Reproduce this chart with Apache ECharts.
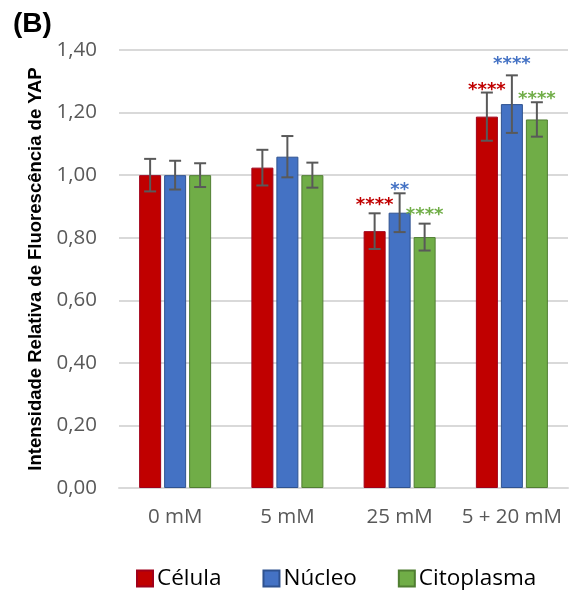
<!DOCTYPE html>
<html>
<head>
<meta charset="utf-8">
<script src="https://cdn.jsdelivr.net/npm/echarts@6/dist/echarts.min.js"></script>
<style>html,body{margin:0;padding:0;background:#fff;}#c{width:569px;height:591px;}</style>
</head>
<body>
<div id="c"></div>
<script>
const categories = ['0 mM', '5 mM', '25 mM', '5 + 20 mM'];
const yTicks = [0, 0.2, 0.4, 0.6, 0.8, 1.0, 1.2, 1.4];
const celula = [1.00, 1.024, 0.821, 1.187];
const nucleo = [1.00, 1.059, 0.880, 1.227];
const citoplasma = [1.00, 1.00, 0.802, 1.178];
const celulaErr = [0.052, 0.057, 0.057, 0.077];
const nucleoErr = [0.046, 0.066, 0.062, 0.092];
const citoplasmaErr = [0.038, 0.040, 0.043, 0.055];
const celulaSig = ['', '', '****', '****'];
const nucleoSig = ['', '', '**', '****'];
const citoplasmaSig = ['', '', '****', '****'];
const celulaSigLevel = [null, null, 0.918, 1.288];
const nucleoSigLevel = [null, null, 0.968, 1.370];
const citoplasmaSigLevel = [null, null, 0.889, 1.258];

const seriesDefs = [
  { name: 'Célula', values: celula, err: celulaErr, sig: celulaSig, sigLevel: celulaSigLevel, color: '#C00000', border: '#A0001A', starColor: '#C00000' },
  { name: 'Núcleo', values: nucleo, err: nucleoErr, sig: nucleoSig, sigLevel: nucleoSigLevel, color: '#4472C4', border: '#2F528F', starColor: '#4472C4' },
  { name: 'Citoplasma', values: citoplasma, err: citoplasmaErr, sig: citoplasmaSig, sigLevel: citoplasmaSigLevel, color: '#70AD47', border: '#507E32', starColor: '#70AD47' }
];

const BAR_W = 22, BAR_GAP = 3;
const series = [];
seriesDefs.forEach(function (s) {
  series.push({
    name: s.name, type: 'bar', barWidth: BAR_W, barGap: (BAR_GAP / BAR_W * 100) + '%',
    data: s.values,
    itemStyle: { color: s.color, borderColor: s.border, borderWidth: 1 },
    z: 2
  });
});
seriesDefs.forEach(function (s, si) {
  const offset = (si - 1) * (BAR_W + BAR_GAP);
  series.push({
    type: 'custom', name: s.name + ' err', z: 5, silent: true,
    data: s.values.map(function (v, i) {
      return [i, v - s.err[i], v + s.err[i], s.sigLevel[i] == null ? v : s.sigLevel[i]];
    }),
    renderItem: function (params, api) {
      const i = api.value(0);
      const lo = api.coord([i, api.value(1)]);
      const hi = api.coord([i, api.value(2)]);
      const x = lo[0] + offset;
      const cw = 6;
      const st = { stroke: '#595959', lineWidth: 2 };
      const children = [
        { type: 'line', shape: { x1: x, y1: lo[1], x2: x, y2: hi[1] }, style: st },
        { type: 'line', shape: { x1: x - cw, y1: lo[1], x2: x + cw, y2: lo[1] }, style: st },
        { type: 'line', shape: { x1: x - cw, y1: hi[1], x2: x + cw, y2: hi[1] }, style: st }
      ];
      const txt = s.sig[i];
      if (txt) {
        const sp = api.coord([i, api.value(3)]);
        children.push({
          type: 'text',
          style: { x: x, y: sp[1] + 5, text: txt, fill: s.starColor, font: 'bold 18px "DejaVu Sans"', textAlign: 'center', textVerticalAlign: 'middle' }
        });
      }
      return { type: 'group', children: children };
    }
  });
});

const chart = echarts.init(document.getElementById('c'), null, { renderer: 'canvas' });
chart.setOption({
  animation: false,
  backgroundColor: '#fff',
  title: { text: '(B)', left: 13, top: 10, padding: 0, textStyle: { fontFamily: 'Liberation Sans', fontWeight: 'bold', fontSize: 28, color: '#000' } },
  legend: {
    data: seriesDefs.map(function (s) { return s.name; }),
    left: 136, top: 567, padding: 0, icon: 'rect', itemWidth: 16, itemHeight: 16, itemGap: 41,
    textStyle: { fontFamily: 'Open Sans', fontSize: 22.5, color: '#000', padding: [0, 0, 0, -1] }
  },
  grid: { left: 119, right: 1, top: 50, bottom: 103 },
  xAxis: {
    type: 'category', data: categories,
    axisLine: { show: true, lineStyle: { color: '#d9d9d9', width: 2 } },
    axisTick: { show: false },
    axisLabel: { interval: 0, fontFamily: 'Open Sans', fontSize: 20.5, color: '#595959', margin: 19 }
  },
  yAxis: {
    type: 'value', min: yTicks[0], max: yTicks[yTicks.length - 1], interval: 0.2,
    name: 'Intensidade Relativa de Fluorescência de YAP',
    nameLocation: 'middle', nameGap: 73, nameRotate: 90,
    nameTextStyle: { fontFamily: 'Liberation Sans', fontWeight: 'bold', fontSize: 18.5, color: '#000' },
    axisLine: { show: false }, axisTick: { show: false },
    splitLine: { lineStyle: { color: '#d9d9d9', width: 2 } },
    axisLabel: { fontFamily: 'Open Sans', fontSize: 20.5, color: '#595959', margin: 22, formatter: function (v) { return v.toFixed(2).replace('.', ','); } }
  },
  series: series
});
</script>
</body>
</html>
